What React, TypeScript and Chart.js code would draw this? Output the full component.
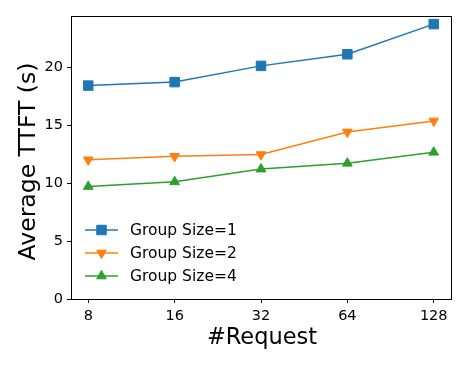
import React, { useEffect, useRef } from "react";
import { Chart, registerables } from "chart.js";

Chart.register(...registerables);

const categories = ["8", "16", "32", "64", "128"];
const groupSize1 = [18.4, 18.7, 20.1, 21.1, 23.7];
const groupSize2 = [12.0, 12.3, 12.45, 14.4, 15.35];
const groupSize4 = [9.7, 10.1, 11.2, 11.7, 12.65];
const yTicks = [0, 5, 10, 15, 20];
const seriesNames = ["Group Size=1", "Group Size=2", "Group Size=4"];
const colors = ["#1f77b4", "#ff7f0e", "#2ca02c"];

const FONT = "'DejaVu Sans', sans-serif";

function drawMarker(ctx: CanvasRenderingContext2D, style: string, rot: number, r: number, x: number, y: number, color: string) {
  ctx.save();
  ctx.fillStyle = color;
  ctx.strokeStyle = color;
  ctx.lineWidth = 1;
  ctx.beginPath();
  if (style === "rect") {
    const s = Math.SQRT1_2 * r;
    ctx.rect(x - s, y - s, 2 * s, 2 * s);
  } else {
    ctx.translate(x, y);
    ctx.rotate((rot * Math.PI) / 180);
    const a = Math.PI / 3;
    ctx.moveTo(0, -r);
    ctx.lineTo(r * Math.sin(2 * a), r * 0.5);
    ctx.lineTo(-r * Math.sin(2 * a), r * 0.5);
    ctx.closePath();
  }
  ctx.fill();
  ctx.stroke();
  ctx.restore();
}

const decorPlugin = {
  id: "decor",
  afterDatasetsDraw(chart: any) {
    const { ctx, chartArea } = chart;
    const { left, top, right, bottom } = chartArea;
    ctx.save();
    // frame
    ctx.strokeStyle = "#000";
    ctx.lineWidth = 1;
    ctx.strokeRect(Math.round(left) + 0.5, Math.round(top) + 0.5, Math.round(right - left), Math.round(bottom - top));
    // titles
    ctx.fillStyle = "#000";
    ctx.font = `22.5px ${FONT}`;
    ctx.textAlign = "center";
    ctx.textBaseline = "alphabetic";
    ctx.fillText("#Request", 262, 344);
    ctx.save();
    ctx.font = `23.5px ${FONT}`;
    ctx.translate(35, 161.5);
    ctx.rotate(-Math.PI / 2);
    ctx.fillText("Average TTFT (s)", 0, 0);
    ctx.restore();
    // legend
    const rows = [230, 253, 276];
    const styles = ["rect", "triangle", "triangle"];
    const rots = [0, 180, 0];
    const radii = [6.7, 5.6, 5.6];
    ctx.font = `15.5px ${FONT}`;
    ctx.textAlign = "left";
    ctx.textBaseline = "middle";
    rows.forEach((y, i) => {
      ctx.strokeStyle = colors[i];
      ctx.lineWidth = 1.5;
      ctx.beginPath();
      ctx.moveTo(85, y);
      ctx.lineTo(118, y);
      ctx.stroke();
      drawMarker(ctx, styles[i], rots[i], radii[i], 101.5, y, colors[i]);
      ctx.fillStyle = "#000";
      ctx.fillText(seriesNames[i], 130, y + 1);
    });
    ctx.restore();
  },
};

export default function App() {
  const ref = useRef<HTMLCanvasElement | null>(null);
  useEffect(() => {
    if (!ref.current) return;
    const mk = (arr: number[]) => arr.map((v, i) => ({ x: i, y: v }));
    const all = [groupSize1, groupSize2, groupSize4];
    const pstyles = ["rect", "triangle", "triangle"];
    const prots = [0, 180, 0];
    const pr = [6.7, 5.6, 5.6];
    const chart = new Chart(ref.current, {
      type: "line",
      data: {
        datasets: all.map((arr, i) => ({
          label: seriesNames[i],
          data: mk(arr),
          borderColor: colors[i],
          backgroundColor: colors[i],
          borderWidth: 1.5,
          pointStyle: pstyles[i] as any,
          pointRotation: prots[i],
          pointRadius: pr[i],
          pointBorderWidth: 1,
          pointBackgroundColor: colors[i],
          pointBorderColor: colors[i],
          tension: 0,
          fill: false,
        })),
      },
      options: {
        animation: false,
        responsive: false,
        events: [],
        layout: { padding: { top: 16, right: 17, left: 0, bottom: 0 } },
        plugins: { legend: { display: false }, tooltip: { enabled: false } },
        scales: {
          x: {
            type: "linear",
            min: -0.2,
            max: 4.2,
            afterBuildTicks: (s: any) => {
              s.ticks = categories.map((_, i) => ({ value: i }));
            },
            afterFit: (s: any) => {
              s.height = 67;
            },
            ticks: {
              callback: (v: any) => categories[v] ?? "",
              color: "#000",
              font: { family: FONT, size: 14.5 },
              padding: 5,
              maxRotation: 0,
              autoSkip: false,
            },
            grid: { drawOnChartArea: false, drawTicks: true, tickLength: 4, tickColor: "#000", color: "#000" },
            border: { display: false },
          },
          y: {
            type: "linear",
            min: 0,
            max: 24.4,
            afterBuildTicks: (s: any) => {
              s.ticks = yTicks.map((v) => ({ value: v }));
            },
            afterFit: (s: any) => {
              s.width = 71;
            },
            ticks: {
              color: "#000",
              font: { family: FONT, size: 14.5 },
              padding: 4,
            },
            grid: { drawOnChartArea: false, drawTicks: true, tickLength: 4, tickColor: "#000", color: "#000" },
            border: { display: false },
          },
        },
      },
      plugins: [decorPlugin],
    });
    return () => chart.destroy();
  }, []);
  return (
    <div style={{ position: "fixed", left: 0, top: 0, width: 468, height: 366, background: "#fff" }}>
      <canvas ref={ref} width={468} height={366} style={{ width: 468, height: 366 }} />
    </div>
  );
}
